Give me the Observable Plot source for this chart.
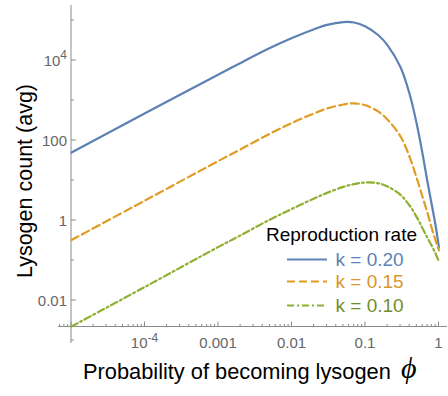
<!DOCTYPE html>
<html><head><meta charset="utf-8">
<script src="https://cdn.jsdelivr.net/npm/d3@7"></script>
<script src="https://cdn.jsdelivr.net/npm/@observablehq/plot@0.6"></script>
<style>
html,body{margin:0;padding:0;background:#fff;}
#chart{width:448px;height:396px;overflow:hidden;}
</style></head><body><div id="chart"></div>
<script>
// ---- data ----
const phi = [1e-5, 1e-4, 1e-3, 0.002, 0.005, 0.01, 0.02, 0.03, 0.05, 0.07, 0.1, 0.15, 0.2, 0.3, 0.4, 0.5, 0.6, 0.7, 0.8, 0.9, 1];
const countK20 = [50.1, 479, 4470, 8710, 20400, 36300, 60300, 77600, 91200, 89100, 70800, 42700, 24000, 6760, 1410, 251, 44.7, 8.91, 2.40, 0.741, 0.209];
const countK15 = [0.324, 3.16, 30.9, 60.3, 148, 275, 479, 631, 794, 851, 759, 525, 331, 126, 38.0, 11.2, 3.80, 1.51, 0.631, 0.316, 0.178];
const countK10 = [0.00224, 0.0219, 0.219, 0.427, 1.05, 1.95, 3.55, 4.90, 6.92, 8.13, 8.91, 8.51, 7.08, 4.37, 2.34, 1.20, 0.631, 0.363, 0.229, 0.148, 0.0933];
const seriesNames = ["k = 0.20", "k = 0.15", "k = 0.10"];
const seriesColors = ["#5E81B5", "#E19C24", "#8FB032"];
const seriesTextColors = ["#5E81B5", "#D9972A", "#6F8F2A"];
const seriesDash = [null, "8,4", "7,3,2,3"];
const legendTitle = "Reproduction rate";
const xTitle = "Probability of becoming lysogen";
const xTitleSymbol = "ϕ";
const yTitle = "Lysogen count (avg)";
const xMajorTicks = [1e-5, 1e-4, 1e-3, 1e-2, 0.1, 1];
const xTickLabels = [null, ["10", "-4"], ["0.001"], ["0.01"], ["0.1"], ["1"]];
const yTicks = [1e-3, 1e-2, 1e-1, 1, 10, 100, 1e3, 1e4, 1e5];
const yTickLabels = [null, ["0.01"], null, ["1"], null, ["100"], null, ["10", "4"], null];
const axisOriginX = 1e-5;
const axisOriginY = 10 ** -2.6625;

const table = [];
[countK20, countK15, countK10].forEach((arr, s) => arr.forEach((v, i) => table.push({phi: phi[i], count: v, series: seriesNames[s]})));

const FONT = "'Liberation Sans', Arial, Helvetica, sans-serif";
const AXIS = "#8a8a8a";
const TICKTEXT = "#666666";

function minorTicks(lo, hi) {
  const out = [];
  for (let e = -7; e <= 1; e++) for (let m = 2; m <= 9; m++) {
    const v = m * 10 ** e; if (v >= lo && v <= hi) out.push(v);
  }
  return out;
}

function axesMark(index, scales, values, dim) {
  const {x, y} = scales;
  const left = dim.marginLeft, right = dim.width - dim.marginRight;
  const top = dim.marginTop, bottom = dim.height - dim.marginBottom;
  const X0 = x(axisOriginX), Y0 = y(axisOriginY);
  const g = d3.create("svg:g").attr("font-family", FONT).attr("text-anchor", "start");
  g.append("line").attr("x1", left).attr("x2", right).attr("y1", Y0).attr("y2", Y0).attr("stroke", AXIS);
  g.append("line").attr("x1", X0).attr("x2", X0).attr("y1", top).attr("y2", bottom).attr("stroke", AXIS);
  minorTicks(10 ** -5.2, 1.3).forEach(v => {
    const px = x(v); if (px < left || px > right) return;
    g.append("line").attr("x1", px).attr("x2", px).attr("y1", Y0).attr("y2", Y0 - 2.5).attr("stroke", AXIS);
  });
  xMajorTicks.forEach((v, i) => {
    const px = x(v);
    g.append("line").attr("x1", px).attr("x2", px).attr("y1", Y0).attr("y2", Y0 - 5).attr("stroke", AXIS);
    const lab = xTickLabels[i];
    if (lab) {
      const t = g.append("text").attr("x", px).attr("y", Y0 + 21.5).attr("text-anchor", "middle")
        .attr("fill", TICKTEXT).attr("font-size", 15);
      t.append("tspan").text(lab[0]);
      if (lab[1]) t.append("tspan").attr("dy", -6.5).attr("font-size", 12).text(lab[1]);
    }
  });
  yTicks.forEach((v, i) => {
    const py = y(v);
    const lab = yTickLabels[i];
    g.append("line").attr("x1", X0).attr("x2", X0 + (lab ? 5 : 3)).attr("y1", py).attr("y2", py).attr("stroke", AXIS);
    if (lab) {
      const t = g.append("text").attr("x", X0 - 4).attr("y", py + 5.5).attr("text-anchor", "end")
        .attr("fill", TICKTEXT).attr("font-size", 15);
      t.append("tspan").text(lab[0]);
      if (lab[1]) t.append("tspan").attr("dy", -6.5).attr("font-size", 12).text(lab[1]);
    }
  });
  // axis titles
  g.append("text").attr("x", 83).attr("y", 379).attr("text-anchor", "start").attr("font-size", 21.8).attr("fill", "#000").text(xTitle);
  g.append("text").attr("x", 401).attr("y", 378).attr("text-anchor", "start").attr("font-size", 30).attr("font-style", "italic")
    .attr("font-family", "'Liberation Serif', 'DejaVu Serif', serif").attr("fill", "#000").text(xTitleSymbol);
  g.append("text").attr("transform", "translate(32,181) rotate(-90)").attr("text-anchor", "middle")
    .attr("font-size", 21.5).attr("fill", "#000").text(yTitle);
  // legend
  g.append("text").attr("x", 341.5).attr("y", 241).attr("text-anchor", "middle").attr("font-size", 19)
    .attr("fill", "#000").text(legendTitle);
  const rowY = [259.5, 281.5, 305.5];
  seriesNames.forEach((name, i) => {
    const ln = g.append("line").attr("x1", 287).attr("x2", 327).attr("y1", rowY[i]).attr("y2", rowY[i])
      .attr("stroke", seriesColors[i]).attr("stroke-width", 2.2);
    if (seriesDash[i]) ln.attr("stroke-dasharray", seriesDash[i]);
    g.append("text").attr("x", 335.5).attr("y", rowY[i] + 6.5).attr("text-anchor", "start").attr("font-size", 19)
      .attr("fill", seriesTextColors[i]).text(name);
  });
  return g.node();
}

const chart = Plot.plot({
  width: 448, height: 396,
  marginLeft: 58, marginRight: 1, marginTop: 5, marginBottom: 53,
  x: {type: "log", domain: [10 ** -5.177, 10 ** 0.116], axis: null},
  y: {type: "log", domain: [10 ** -3.075, 10 ** 5.375], axis: null},
  style: {fontFamily: FONT, background: "#fff", overflow: "visible"},
  marks: [
    axesMark,
    ...seriesNames.map((name, i) => Plot.line(table.filter(d => d.series === name), {
      x: "phi", y: "count", stroke: seriesColors[i], strokeWidth: 2.2,
      strokeDasharray: seriesDash[i] || undefined, curve: "catmull-rom"
    }))
  ]
});
document.getElementById("chart").appendChild(chart);
</script>
</body></html>
